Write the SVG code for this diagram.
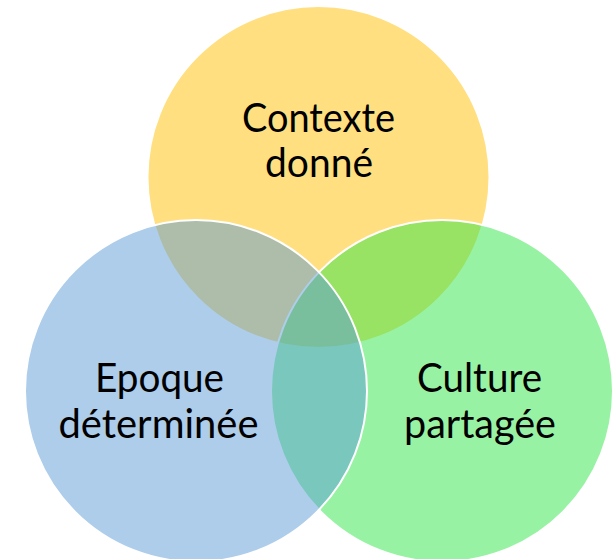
<svg xmlns="http://www.w3.org/2000/svg" width="613" height="559" viewBox="0 0 613 559">
<style>
.c{stroke:#FFFFFF;stroke-width:2}
.t{font-family:Lato,"Open Sans","Liberation Sans",sans-serif;font-size:40px;fill:#000000;text-anchor:middle}
</style>
<rect width="613" height="559" fill="#FFFFFF"/>
<g id="contexte">
<circle class="c" cx="318.5" cy="177" r="171" fill="#FFC000" fill-opacity="0.5"/>
</g>
<g id="culture">
<circle class="c" cx="442" cy="391" r="171" fill="#31E549" fill-opacity="0.5"/>
</g>
<g id="epoque">
<circle class="c" cx="196" cy="391" r="171" fill="#5B9BD5" fill-opacity="0.5"/>
</g>
<g id="labels">
<text class="t" x="318.5" y="131.7" textLength="153" lengthAdjust="spacingAndGlyphs">Contexte</text>
<text class="t" x="319" y="176.7" textLength="108" lengthAdjust="spacingAndGlyphs">donné</text>
<text class="t" x="159.5" y="391.7" textLength="129" lengthAdjust="spacingAndGlyphs">Epoque</text>
<text class="t" x="158.5" y="437.7" textLength="200" lengthAdjust="spacingAndGlyphs">déterminée</text>
<text class="t" x="479.5" y="391.7" textLength="125" lengthAdjust="spacingAndGlyphs">Culture</text>
<text class="t" x="480" y="437.7" textLength="152" lengthAdjust="spacingAndGlyphs">partagée</text>
</g>
<g id="connectors"></g>
</svg>
